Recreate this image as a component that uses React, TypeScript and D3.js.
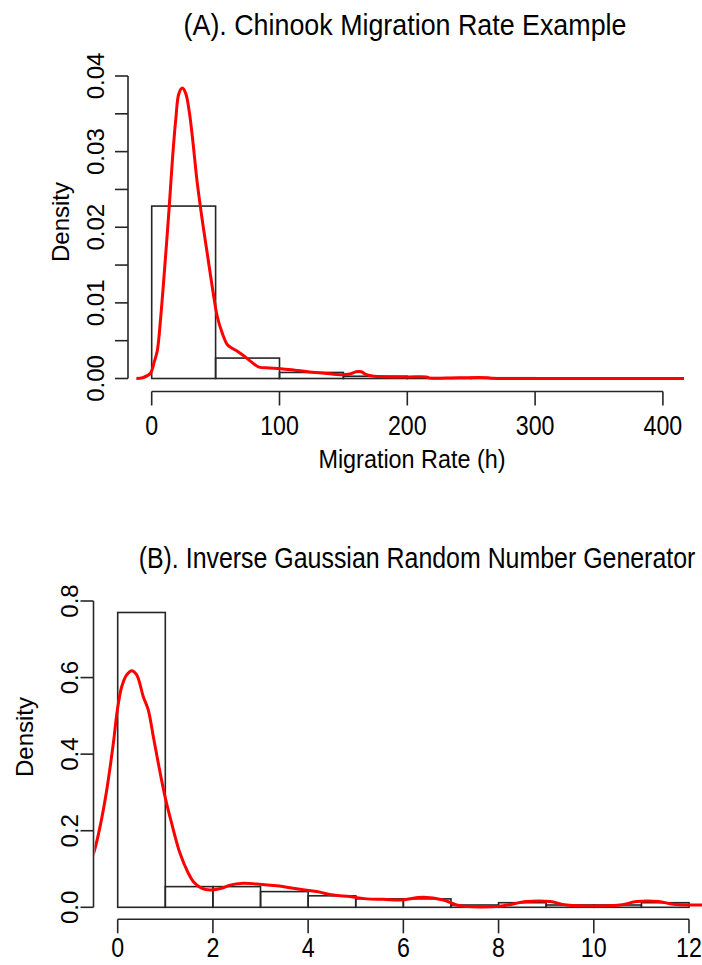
import React from "react";
import * as d3 from "d3";

// ---------- Panel A data ----------
const aBinEdges = [0, 50, 100, 150, 200, 250, 300];
const aBinDensity = [0.0228, 0.0027, 0.0008, 0.0003, 0.0001, 0.0001];
const aCurveX = [-12, -7, -1, 2, 4.4, 7, 9.6, 13.5, 16.2, 18.8, 21.3, 24, 26.6, 29.2, 31.8, 35.7, 39.6, 43.5, 47.4, 51.3, 55.2, 59.1, 63, 67, 72, 78, 84, 92, 101, 112, 122, 135, 148, 155, 160, 164, 168, 174, 200, 215, 218, 240, 263, 266, 300, 430];
const aCurveY = [0, 0.0001, 0.0007, 0.0022, 0.0037, 0.008, 0.0134, 0.0222, 0.0289, 0.0342, 0.0377, 0.0384, 0.0377, 0.0355, 0.032, 0.0258, 0.0209, 0.0165, 0.0121, 0.0082, 0.006, 0.0045, 0.004, 0.0036, 0.003, 0.0022, 0.0015, 0.0014, 0.0013, 0.0011, 0.0009, 0.0007, 0.0005, 0.0006, 0.0009, 0.0009, 0.0005, 0.0003, 0.0002, 0.0002, 0.00005, 0.0001, 0.0001, 0.00002, 0, 0];
const aXTicks = [0, 100, 200, 300, 400];
const aYTicks = [0, 0.005, 0.01, 0.015, 0.02, 0.025, 0.03, 0.035, 0.04];
const aYLabels = ["0.00", "", "0.01", "", "0.02", "", "0.03", "", "0.04"];

// ---------- Panel B data ----------
const bBinEdges = [0, 1, 2, 3, 4, 5, 6, 7, 8, 9, 10, 11, 12];
const bBinDensity = [0.77, 0.054, 0.054, 0.041, 0.03, 0.022, 0.022, 0.006, 0.012, 0.006, 0.006, 0.012];
const bCurveX = [-0.6, -0.487, -0.372, -0.231, -0.092, -0.008, 0.084, 0.189, 0.294, 0.399, 0.538, 0.643, 0.748, 0.853, 0.994, 1.134, 1.309, 1.483, 1.59, 1.76, 1.94, 2.218, 2.36, 2.639, 2.92, 3.34, 3.83, 4.18, 4.53, 4.88, 5.23, 5.58, 5.93, 6.42, 6.84, 7.12, 7.26, 8.03, 8.59, 9.08, 9.43, 10.55, 10.9, 11.36, 11.67, 12.23, 12.6];
const bCurveY = [0.11, 0.149, 0.21, 0.306, 0.428, 0.515, 0.576, 0.607, 0.618, 0.607, 0.55, 0.515, 0.446, 0.376, 0.289, 0.219, 0.141, 0.089, 0.067, 0.05, 0.045, 0.051, 0.058, 0.063, 0.061, 0.056, 0.047, 0.041, 0.032, 0.028, 0.022, 0.021, 0.019, 0.026, 0.019, 0.006, 0.003, 0.003, 0.015, 0.015, 0.006, 0.006, 0.015, 0.015, 0.008, 0.006, 0.005];
const bXTicks = [0, 2, 4, 6, 8, 10, 12];
const bYTicks = [0, 0.2, 0.4, 0.6, 0.8];
const bYLabels = ["0.0", "0.2", "0.4", "0.6", "0.8"];

const FONT = "'Liberation Sans', Arial, Helvetica, sans-serif";
const INK = "#262626";

function HText({ x, y, size, sx, children }: any) {
  return (
    <text
      transform={`translate(${x},${y}) scale(${sx},1)`}
      textAnchor="middle"
      fontFamily={FONT}
      fontSize={size}
      fill="#000"
    >
      {children}
    </text>
  );
}
function VText({ x, y, size, children }: any) {
  return (
    <text
      transform={`translate(${x},${y}) rotate(-90)`}
      textAnchor="middle"
      fontFamily={FONT}
      fontSize={size}
      fill="#000"
    >
      {children}
    </text>
  );
}

function Panel({
  id, binEdges, binDensity, curveX, curveY, xDomain, xRange, yDomain, yRange,
  clip, xTicks, yTicks, yLabels, xAxisY, yAxisX, xLabelBase, yLabelBase,
}: any) {
  const x = d3.scaleLinear().domain(xDomain).range(xRange);
  const y = d3.scaleLinear().domain(yDomain).range(yRange);
  const pts: [number, number][] = curveX.map((v: number, i: number) => [v, curveY[i]]);
  const line = d3
    .line<[number, number]>()
    .x((d) => x(d[0]))
    .y((d) => y(d[1]))
    .curve(d3.curveCatmullRom.alpha(0.5));
  const tick = 13;
  return (
    <g>
      <defs>
        <clipPath id={id}>
          <rect x={clip[0]} y={clip[1]} width={clip[2] - clip[0]} height={clip[3] - clip[1]} />
        </clipPath>
      </defs>
      {binDensity.map((d: number, i: number) => (
        <rect
          key={i}
          x={x(binEdges[i])}
          y={y(d)}
          width={x(binEdges[i + 1]) - x(binEdges[i])}
          height={y(0) - y(d)}
          fill="none"
          stroke={INK}
          strokeWidth={1.6}
        />
      ))}
      <path d={line(pts) || ""} fill="none" stroke="#ff0000" strokeWidth={3} clipPath={`url(#${id})`} strokeLinejoin="round" />
      {/* x axis */}
      <line x1={x(xTicks[0])} x2={x(xTicks[xTicks.length - 1])} y1={xAxisY} y2={xAxisY} stroke={INK} strokeWidth={1.6} />
      {xTicks.map((t: number) => (
        <g key={t}>
          <line x1={x(t)} x2={x(t)} y1={xAxisY} y2={xAxisY + tick + 1} stroke={INK} strokeWidth={1.6} />
          <HText x={x(t)} y={xLabelBase} size={27} sx={0.86}>{String(t)}</HText>
        </g>
      ))}
      {/* y axis */}
      <line x1={yAxisX} x2={yAxisX} y1={y(yTicks[0])} y2={y(yTicks[yTicks.length - 1])} stroke={INK} strokeWidth={1.6} />
      {yTicks.map((t: number, i: number) => (
        <g key={t}>
          <line x1={yAxisX - tick} x2={yAxisX} y1={y(t)} y2={y(t)} stroke={INK} strokeWidth={1.6} />
          {yLabels[i] ? <VText x={yLabelBase} y={y(t)} size={24}>{yLabels[i]}</VText> : null}
        </g>
      ))}
    </g>
  );
}

export default function App() {
  return (
    <svg
      width={702}
      height={965}
      style={{ position: "absolute", left: 0, top: 0, display: "block", background: "#fff" }}
    >
      <rect x={0} y={0} width={702} height={965} fill="#fff" />
      <HText x={405} y={35} size={29.5} sx={0.91}>(A). Chinook Migration Rate Example</HText>
      <Panel
        id="clipA"
        binEdges={aBinEdges}
        binDensity={aBinDensity}
        curveX={aCurveX}
        curveY={aCurveY}
        xDomain={[0, 400]}
        xRange={[151.7, 662.9]}
        yDomain={[0, 0.04]}
        yRange={[378.5, 76]}
        clip={[130.5, 66, 684, 391]}
        xTicks={aXTicks}
        yTicks={aYTicks}
        yLabels={aYLabels}
        xAxisY={391.5}
        yAxisX={128}
        xLabelBase={435}
        yLabelBase={104}
      />
      <HText x={412} y={468} size={26} sx={0.9}>Migration Rate (h)</HText>
      <VText x={69} y={222} size={24}>Density</VText>

      <HText x={417} y={568} size={29.5} sx={0.845}>(B). Inverse Gaussian Random Number Generator</HText>
      <Panel
        id="clipB"
        binEdges={bBinEdges}
        binDensity={bBinDensity}
        curveX={bCurveX}
        curveY={bCurveY}
        xDomain={[0, 12]}
        xRange={[117.7, 689]}
        yDomain={[0, 0.8]}
        yRange={[907.3, 601]}
        clip={[94.5, 598, 712, 919]}
        xTicks={bXTicks}
        yTicks={bYTicks}
        yLabels={bYLabels}
        xAxisY={919.3}
        yAxisX={93.5}
        xLabelBase={957}
        yLabelBase={78}
      />
      <VText x={33} y={737} size={24}>Density</VText>
    </svg>
  );
}
